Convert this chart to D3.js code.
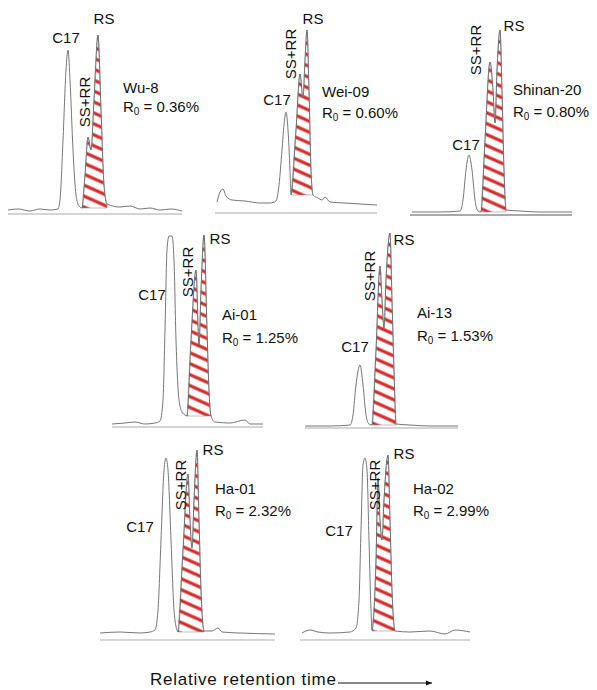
<!DOCTYPE html>
<html>
<head>
<meta charset="utf-8">
<script src="https://cdn.jsdelivr.net/npm/d3@7"></script>
<style>
  body { margin: 0; background: #fff; }
  text { font-family: "Liberation Sans", Arial, sans-serif; fill: #111; }
</style>
</head>
<body>
<svg id="chart" width="597" height="690"></svg>
<script>
// sample names and vitrinite reflectance
var sampleNames = ['Wu-8', 'Wei-09', 'Shinan-20', 'Ai-01', 'Ai-13', 'Ha-01', 'Ha-02'];
var r0Values = ['0.36', '0.60', '0.80', '1.25', '1.53', '2.32', '2.99'];

// traces: [retention offset, signal]
var wu8 = [[0,0],[10,1],[22,-1],[32,1],[42,0],[50,1],[52,10],[55,70],[58,140],[60,160],[62,130],[65,60],[68,15],[71,4],[74,2],[77,35],[80,73],[83,60],[86,110],[90,175],[93,100],[96,25],[99,6],[112,3],[122,4],[132,1],[142,2],[152,0],[163,1],[174,-1]];
var wei09 = [[2,3],[5,13],[8,16],[11,9],[17,5],[30,4],[45,2],[55,2],[61,4],[64,20],[67,55],[69,80],[71,93],[73,75],[75,35],[76,10],[81,75],[85,131],[88,107],[90,145],[92,175],[94,115],[96,35],[98,10],[103,7],[107,5],[110,8],[115,3],[130,2],[145,1],[162,0]];
var shinan20 = [[2,0],[30,0],[50,1],[53,12],[56,42],[59,57],[62,42],[65,12],[68,1],[71,0],[75,72],[80,150],[83,122],[85,89],[87,142],[90,182],[92,122],[94,42],[96,2],[110,1],[130,0],[162,0]];
var ai01 = [[0,0],[13,1],[23,2],[33,0],[43,1],[48,3],[51,24],[53,94],[55,174],[57,188],[60,188],[62,164],[64,84],[67,24],[70,12],[73,9],[75,8],[79,84],[84,154],[87,79],[89,134],[92,189],[95,94],[97,34],[99,8],[103,2],[118,1],[133,4],[138,0],[151,0]];
var ai13 = [[0,0],[25,0],[45,1],[48,11],[51,41],[55,61],[58,41],[61,11],[64,2],[67,1],[71,76],[75,160],[77,126],[79,98],[81,146],[85,193],[87,126],[89,56],[91,2],[105,1],[125,0],[153,0]];
var ha01 = [[0,0],[20,1],[40,0],[50,1],[55,3],[58,23],[61,93],[64,163],[66,175],[68,163],[71,93],[74,23],[77,3],[78,1],[83,83],[88,159],[90,113],[92,85],[94,133],[97,183],[99,113],[101,43],[104,2],[112,2],[118,5],[122,1],[140,0],[175,-1]];
var ha02 = [[2,0],[10,3],[18,1],[30,0],[50,1],[56,5],[59,33],[61,103],[63,168],[65,175],[67,163],[69,93],[71,23],[72,3],[76,73],[78,155],[80,113],[82,93],[84,133],[88,178],[90,113],[92,43],[95,2],[110,1],[130,2],[145,-1],[155,3],[170,1]];
var traces = [wu8, wei09, shinan20, ai01, ai13, ha01, ha02];

// hatched sterane window [start, end, floor]
var hatchRanges = [[74,99,2],[76,98,10],[71,96,0],[75,99,8],[67,91,1],[78,104,1],[72,95,2]];

// panel layout
var panels = [
  {left: 8,   base: 210, axisY: 214, w: 174, c17: [66,43],  rs: [104,24], ss: [90,102], name: [123,93], gap: 19},
  {left: 215, base: 205, axisY: 213, w: 162, c17: [277,105], rs: [313,24], ss: [296,54], name: [322,97], gap: 21},
  {left: 410, base: 212, axisY: 215, w: 162, c17: [466,150], rs: [514,31], ss: [481,50], name: [513,95], gap: 22},
  {left: 112, base: 424, axisY: 427, w: 151, c17: [152,300], rs: [220,244], ss: [193,272], name: [222,320], gap: 23},
  {left: 305, base: 426, axisY: 428, w: 153, c17: [355,352], rs: [404,245], ss: [375,276], name: [417,318], gap: 23},
  {left: 100, base: 633, axisY: 640, w: 175, c17: [140,532], rs: [213,455], ss: [186,485], name: [215,494], gap: 22},
  {left: 300, base: 633, axisY: 640, w: 170, c17: [339,536], rs: [404,459], ss: [380,485], name: [413,494], gap: 22}
];

var svg = d3.select('#chart');
var defs = svg.append('defs');
var pat = defs.append('pattern')
  .attr('id', 'hatch')
  .attr('patternUnits', 'userSpaceOnUse')
  .attr('width', 10).attr('height', 10)
  .attr('patternTransform', 'rotate(24)');
pat.append('line')
  .attr('x1', 0).attr('y1', 5).attr('x2', 10).attr('y2', 5)
  .attr('stroke', '#d42a2a').attr('stroke-width', 3.2);
defs.append('marker')
  .attr('id', 'arr').attr('viewBox', '0 0 10 10')
  .attr('refX', 10).attr('refY', 5)
  .attr('markerWidth', 6).attr('markerHeight', 6).attr('orient', 'auto')
  .append('path').attr('d', 'M0,1L10,5L0,9z').attr('fill', '#111');

panels.forEach(function (p, i) {
  var x = d3.scaleLinear().domain([0, p.w]).range([p.left, p.left + p.w]);
  var y = d3.scaleLinear().domain([0, 200]).range([p.base, p.base - 200]);
  var data = traces[i];
  var h = hatchRanges[i];
  var g = svg.append('g');

  // baseline axis
  g.append('line')
    .attr('x1', x(0)).attr('x2', x(p.w))
    .attr('y1', p.axisY).attr('y2', p.axisY)
    .attr('stroke', '#aaa').attr('stroke-width', i === 2 ? 2 : 1.2);

  var sub = data.filter(function (d) { return d[0] >= h[0] && d[0] <= h[1]; });
  g.append('path')
    .datum(sub)
    .attr('d', d3.area().curve(d3.curveMonotoneX)
      .x(function (d) { return x(d[0]); })
      .y0(y(h[2]))
      .y1(function (d) { return y(d[1]); }))
    .attr('fill', 'url(#hatch)')
    .attr('stroke', '#999').attr('stroke-width', 0.6);

  g.append('path')
    .datum(data)
    .attr('d', d3.line().curve(d3.curveMonotoneX)
      .x(function (d) { return x(d[0]); })
      .y(function (d) { return y(d[1]); }))
    .attr('fill', 'none')
    .attr('stroke', '#666').attr('stroke-width', 0.9);

  // labels
  g.append('text').attr('x', p.c17[0]).attr('y', p.c17[1])
    .attr('text-anchor', 'middle').attr('font-size', 15).text('C17');
  g.append('text').attr('x', p.rs[0]).attr('y', p.rs[1])
    .attr('text-anchor', 'middle').attr('font-size', 15).text('RS');
  g.append('text')
    .attr('transform', 'translate(' + p.ss[0] + ',' + p.ss[1] + ') rotate(-90)')
    .attr('text-anchor', 'middle').attr('font-size', 15).text('SS+RR');
  g.append('text').attr('x', p.name[0]).attr('y', p.name[1])
    .attr('font-size', 15).text(sampleNames[i]);
  var r = g.append('text').attr('x', p.name[0]).attr('y', p.name[1] + p.gap)
    .attr('font-size', 15);
  r.append('tspan').text('R');
  r.append('tspan').attr('font-size', 10).attr('dy', 3).text('0');
  r.append('tspan').attr('dy', -3).text(' = ' + r0Values[i] + '%');
});

svg.append('text').attr('x', 150).attr('y', 685)
  .attr('font-size', 17).attr('textLength', 186).text('Relative retention time');
svg.append('line').attr('x1', 338).attr('x2', 432).attr('y1', 683).attr('y2', 683)
  .attr('stroke', '#111').attr('stroke-width', 1).attr('marker-end', 'url(#arr)');
</script>
</body>
</html>
